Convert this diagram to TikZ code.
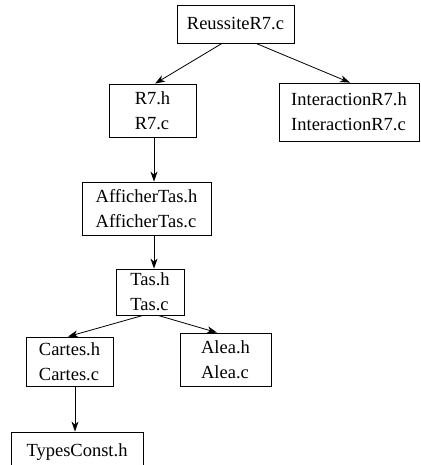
\documentclass[tikz,border=0pt]{standalone}
\usepackage{fontspec}
\setmainfont{Liberation Serif}
\usetikzlibrary{arrows.meta}
\begin{document}
\begin{tikzpicture}[x=1pt,y=-1pt,
  box/.style={draw,line width=0.8pt,inner sep=0pt,align=left,
    font=\fontsize{18.5}{25}\selectfont},
  arr/.style={line width=0.8pt,-{Stealth[length=10pt,width=7pt,inset=3pt]}}]
\useasboundingbox (0,0) rectangle (420,465);
\node[box,minimum width=117pt,minimum height=38pt] (reu) at (235.5,24) {ReussiteR7.c};
\node[box,minimum width=87pt,minimum height=53pt] (r7) at (152.5,110.5) {R7.h\\R7.c};
\node[box,minimum width=140pt,minimum height=58pt] (inter) at (349,112) {InteractionR7.h\\InteractionR7.c};
\node[box,minimum width=129pt,minimum height=53pt] (aff) at (146.5,208.5) {AfficherTas.h\\AfficherTas.c};
\node[box,minimum width=68pt,minimum height=46pt] (tas) at (150,292) {Tas.h\\Tas.c};
\node[box,minimum width=87pt,minimum height=49pt] (cartes) at (69.5,361.5) {Cartes.h\\Cartes.c};
\node[box,minimum width=91pt,minimum height=53pt] (alea) at (225.5,359.5) {Alea.h\\Alea.c};
\node[box,minimum width=132pt,minimum height=40pt] (types) at (77,452) {TypesConst.h};
\draw[arr] ([xshift=-13.5pt]reu.south) -- ([xshift=2.5pt]r7.north);
\draw[arr] ([xshift=20.5pt]reu.south) -- ([xshift=1pt]inter.north);
\draw[arr] ([xshift=1.5pt]r7.south) -- ([xshift=1.5pt]r7.south |- aff.north);
\draw[arr] ([xshift=7.5pt]aff.south) -- ([xshift=7.5pt]aff.south |- tas.north);
\draw[arr] ([xshift=-7pt]tas.south) -- ([xshift=-1.5pt]cartes.north);
\draw[arr] ([xshift=8pt]tas.south) -- ([xshift=-8.5pt]alea.north);
\draw[arr] ([xshift=5.5pt]cartes.south) -- ([xshift=5.5pt]cartes.south |- types.north);
\end{tikzpicture}
\end{document}
